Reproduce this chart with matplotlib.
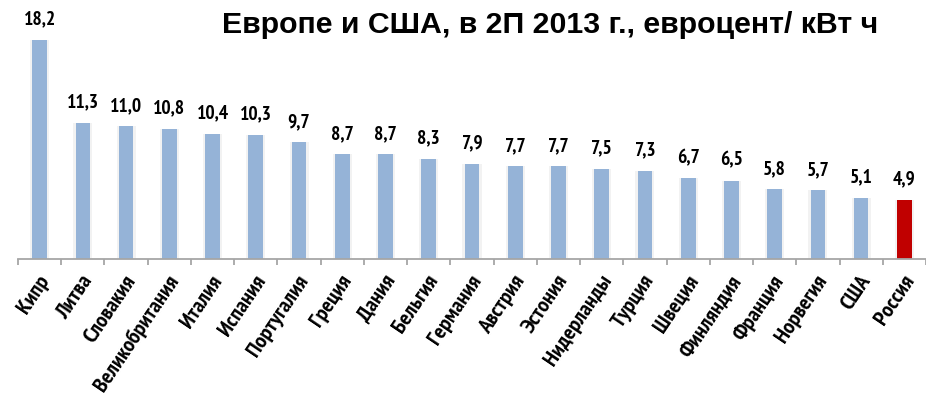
import matplotlib
matplotlib.use("Agg")
import matplotlib.pyplot as plt
from matplotlib import font_manager as fm
import numpy as np

countries = ["Кипр", "Литва", "Словакия", "Великобритания", "Италия", "Испания",
             "Португалия", "Греция", "Дания", "Бельгия", "Германия", "Австрия",
             "Эстония", "Нидерланды", "Турция", "Швеция", "Финляндия", "Франция",
             "Норвегия", "США", "Россия"]
prices = [18.2, 11.3, 11.0, 10.8, 10.4, 10.3, 9.7, 8.7, 8.7, 8.3, 7.9, 7.7,
          7.7, 7.5, 7.3, 6.7, 6.5, 5.8, 5.7, 5.1, 4.9]
highlight = "Россия"
title = "Европе и США, в 2П 2013 г., евроцент/ кВт ч"


def pick(cands, default="Liberation Sans"):
    for c in cands:
        try:
            path = fm.findfont(fm.FontProperties(family=c, weight="bold"),
                               fallback_to_default=False)
            if path:
                return c
        except Exception:
            pass
    return default


narrow = pick(["Liberation Sans Narrow", "Arial Narrow", "PT Sans Narrow",
               "Roboto Condensed", "Fira Sans Condensed", "IBM Plex Sans Condensed",
               "Archivo Narrow", "Open Sans Condensed"])
wide = pick(["Liberation Sans", "Arimo", "Arial"])
plt.rcParams['font.family'] = [narrow, 'DejaVu Sans']

W, H = 926, 408
fig = plt.figure(figsize=(W/100, H/100), dpi=100)
ax = fig.add_axes([18/W, (H-259)/H, (926-18)/W, 241/H])

x = np.arange(len(countries))
colors = ["#C00000" if c == highlight else "#95B3D7" for c in countries]
ax.bar(x, prices, width=0.44, color="#000000", alpha=0.05, zorder=1)
ax.bar(x, prices, width=0.34, color=colors, zorder=2)
ax.set_xlim(-0.5, len(countries)-0.5)
ax.set_ylim(0, 20)

for xi, v in zip(x, prices):
    ax.annotate(f"{v:.1f}".replace(".", ","), xy=(xi, v), xytext=(0, 11),
                textcoords="offset points", ha="center", va="baseline",
                fontsize=14, fontweight="bold", annotation_clip=False)

for s in ["top", "right", "left"]:
    ax.spines[s].set_visible(False)
ax.spines["bottom"].set_color("#A6A6A6")
ax.spines["bottom"].set_linewidth(1.3)
ax.set_yticks([])
ax.set_xticks(np.arange(len(countries)+1) - 0.5)
ax.set_xticklabels([])
ax.tick_params(axis="x", length=4, color="#A6A6A6", width=1.3)

for xi, c in zip(x, countries):
    ax.annotate(c, xy=(xi, 0), xycoords="data", xytext=(4, -13), textcoords="offset points",
                rotation=56, rotation_mode="anchor", ha="right", va="center",
                fontsize=16, fontweight="bold", annotation_clip=False)

fig.text(550/W, 1-33/H, title, ha="center", va="baseline", fontsize=21.8,
         fontweight="bold", family=[wide, 'DejaVu Sans'])

fig.savefig("out.png", dpi=100)
